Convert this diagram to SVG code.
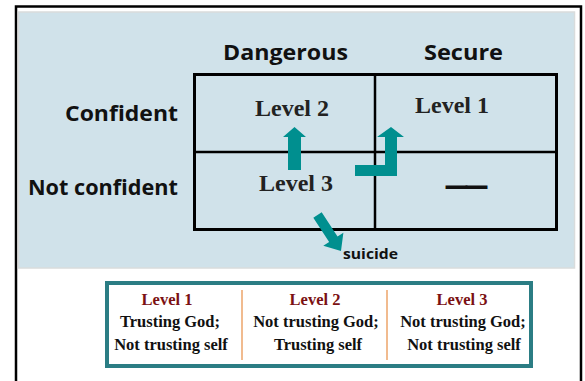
<svg xmlns="http://www.w3.org/2000/svg" width="585" height="381" viewBox="0 0 585 381">
  <defs>
    <style>
      .hdr { font-family: "Open Sans", "DejaVu Sans", sans-serif; font-weight: bold; font-size: 22px; fill: #111; }
      .cell { font-family: "Liberation Serif", "Times New Roman", serif; font-weight: bold; font-size: 24px; fill: #222; text-anchor: middle; }
      .lg { font-family: "Liberation Serif", "Times New Roman", serif; font-weight: bold; font-size: 16.5px; fill: #111; text-anchor: middle; }
      .lgt { fill: #7b1113; }
      .arrow { fill: #008f8f; }
      .grid { fill: none; stroke: #000; stroke-width: 3; }
    </style>
  </defs>
  <rect x="0" y="0" width="585" height="381" fill="#ffffff"/>
  <!-- outer frame -->
  <path d="M16 381 V6.5 H581 V381" fill="none" stroke="#000" stroke-width="2.5"/>
  <!-- blue panel -->
  <rect x="18.5" y="12" width="556" height="256" fill="#d0e2ea" stroke="#d9dcdc" stroke-width="1.5"/>

  <!-- headers -->
  <g id="col-dangerous"><text class="hdr" x="223" y="60" textLength="125" lengthAdjust="spacingAndGlyphs">Dangerous</text></g>
  <g id="col-secure"><text class="hdr" x="424" y="60" textLength="79" lengthAdjust="spacingAndGlyphs">Secure</text></g>
  <g id="row-confident"><text class="hdr" x="65" y="121" textLength="113" lengthAdjust="spacingAndGlyphs">Confident</text></g>
  <g id="row-notconfident"><text class="hdr" x="28" y="195" textLength="150" lengthAdjust="spacingAndGlyphs">Not confident</text></g>

  <!-- grid -->
  <g id="grid">
    <rect x="194.5" y="74.5" width="362" height="155" fill="#ffffff" class="grid"/>
    <line x1="375" y1="74.5" x2="375" y2="229.5" stroke="#000" stroke-width="2.5"/>
    <line x1="194.5" y1="152" x2="556.5" y2="152" stroke="#000" stroke-width="2.5"/>
  </g>

  <g id="level2-cell"><text class="cell" x="292" y="116">Level 2</text></g>
  <g id="level1-cell"><text class="cell" x="452" y="113">Level 1</text></g>
  <g id="level3-cell"><text class="cell" x="296" y="191">Level 3</text></g>
  <g id="empty-cell"><text class="cell" x="466.5" y="193" font-size="20" stroke="#111" stroke-width="2" textLength="40" lengthAdjust="spacingAndGlyphs">——</text></g>

  <!-- connectors -->
  <g id="connectors">
    <polygon class="arrow" points="288,170 301,170 301,137 306,137 294.5,127 283,137 288,137"/>
    <polygon class="arrow" points="355,165 385,165 385,137 377,137 391,127 404,137 397,137 397,176 355,176"/>
    <polygon class="arrow" transform="translate(317.5,215) rotate(56.9)" points="0,-5 29,-5 29,-12 43,0 29,12 29,5 0,5"/>
  </g>
  <g id="suicide"><text x="343" y="259" font-family="'Open Sans', 'DejaVu Sans', sans-serif" font-weight="bold" font-size="15" fill="#111" textLength="55" lengthAdjust="spacingAndGlyphs">suicide</text></g>

  <!-- legend -->
  <g id="legend">
    <rect x="107" y="283" width="424" height="83" fill="#ffffff" stroke="#2b7d84" stroke-width="4"/>
    <line x1="242" y1="290" x2="242" y2="360" stroke="#eda46a" stroke-width="1.5"/>
    <line x1="387" y1="290" x2="387" y2="360" stroke="#eda46a" stroke-width="1.5"/>
    <g id="legend-1">
      <text class="lg lgt" x="167" y="305">Level 1</text>
      <text class="lg" x="170" y="327">Trusting God;</text>
      <text class="lg" x="171" y="350">Not trusting self</text>
    </g>
    <g id="legend-2">
      <text class="lg lgt" x="315" y="305">Level 2</text>
      <text class="lg" x="316" y="327">Not trusting God;</text>
      <text class="lg" x="318" y="350">Trusting self</text>
    </g>
    <g id="legend-3">
      <text class="lg lgt" x="462" y="305">Level 3</text>
      <text class="lg" x="463" y="327">Not trusting God;</text>
      <text class="lg" x="464" y="350">Not trusting self</text>
    </g>
  </g>
</svg>
